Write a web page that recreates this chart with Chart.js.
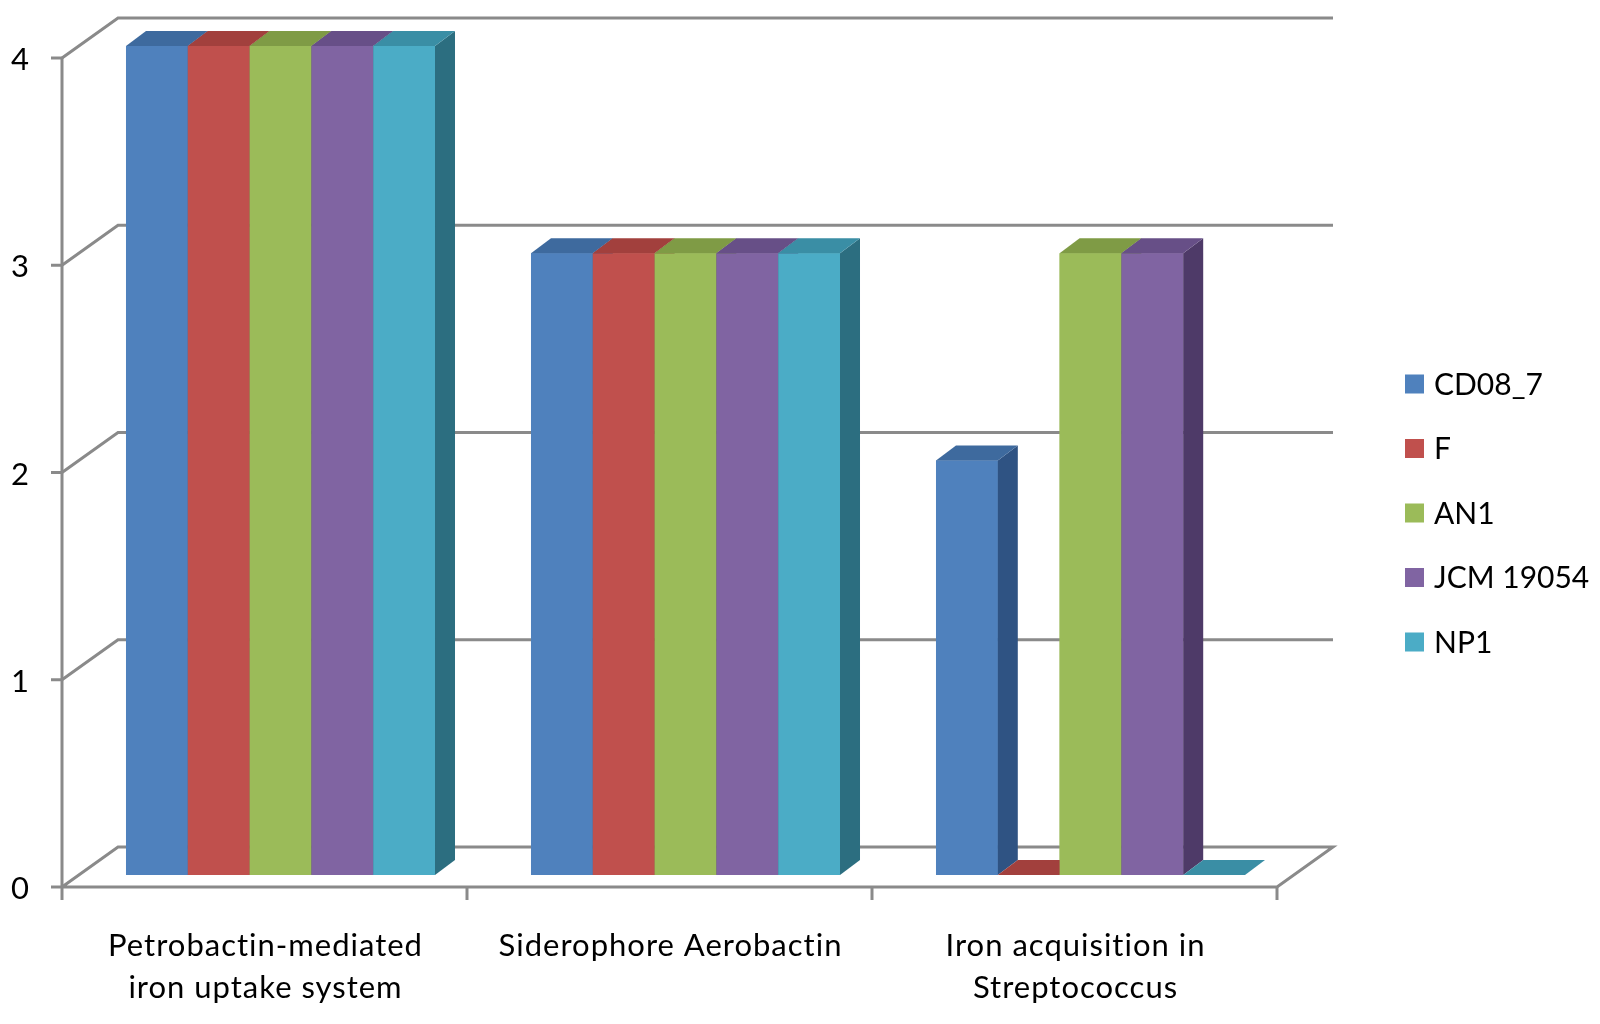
<!DOCTYPE html>
<html>
<head>
<meta charset="utf-8">
<script src="https://cdn.jsdelivr.net/npm/chart.js@4.4.1/dist/chart.umd.min.js"></script>
<style>
html, body { margin: 0; padding: 0; background: #fff; }
#wrap { width: 1600px; height: 1024px; position: relative; }
</style>
</head>
<body>
<div id="wrap"><canvas id="chart"></canvas></div>
<script>
// data
const categories = [
    ['Petrobactin-mediated', 'iron uptake system'],
    ['Siderophore Aerobactin'],
    ['Iron acquisition in', 'Streptococcus']
];
const seriesNames = ['CD08_7', 'F', 'AN1', 'JCM 19054', 'NP1'];
const cd08_7 = [4, 3, 2];
const strainF = [4, 3, 0];
const an1 = [4, 3, 3];
const jcm19054 = [4, 3, 3];
const np1 = [4, 3, 0];
const yTicks = [0, 1, 2, 3, 4];

// styles
const fronts = ['#4F81BD', '#C0504D', '#9BBB59', '#8064A2', '#4BACC6'];
const tops   = ['#3E6A9E', '#A2403D', '#7F9B45', '#674F87', '#3A8EA5'];
const sides  = ['#2F5383', '#7E2F2D', '#5E7634', '#4E3A68', '#2C6E80'];
const FONT = 'Lato, "Open Sans", sans-serif';

// 3d offsets relative to the plane of the bar fronts
const depth = {dx: 20, dy: -15};
const front = {dx: -16, dy: 12};
const back = {dx: 40, dy: -28};

const poly = (ctx, pts, fill) => {
    ctx.beginPath();
    ctx.moveTo(pts[0][0], pts[0][1]);
    pts.slice(1).forEach(p => ctx.lineTo(p[0], p[1]));
    ctx.closePath();
    ctx.fillStyle = fill;
    ctx.fill();
};

const frame = {
    id: 'frame',
    beforeDatasetsDraw(chart) {
        const {ctx, chartArea: a, scales: {x, y}} = chart;
        ctx.save();
        ctx.strokeStyle = '#8a8a8a';
        ctx.lineWidth = 3;
        const xl = a.left, xr = a.right;

        // walls, gridlines and floor
        yTicks.forEach(v => {
            const py = y.getPixelForValue(v);
            ctx.beginPath();
            ctx.moveTo(xl + front.dx, py + front.dy);
            ctx.lineTo(xl + back.dx, py + back.dy);
            ctx.lineTo(xr + back.dx, py + back.dy);
            if (v === 0) {
                ctx.lineTo(xr + front.dx, py + front.dy);
                ctx.lineTo(xl + front.dx, py + front.dy);
            }
            ctx.stroke();
            // tick mark
            ctx.beginPath();
            ctx.moveTo(xl + front.dx - 11, py + front.dy);
            ctx.lineTo(xl + front.dx, py + front.dy);
            ctx.stroke();
        });

        // value axis
        ctx.beginPath();
        ctx.moveTo(xl + front.dx, y.getPixelForValue(4) + front.dy);
        ctx.lineTo(xl + front.dx, y.getPixelForValue(0) + front.dy);
        ctx.stroke();

        // category ticks
        const cw = (xr - xl) / categories.length;
        const fy = y.getPixelForValue(0) + front.dy;
        for (let i = 0; i <= categories.length; i++) {
            const px = xl + i * cw + front.dx;
            ctx.beginPath();
            ctx.moveTo(px, fy);
            ctx.lineTo(px, fy + 13);
            ctx.stroke();
        }
        ctx.restore();
    },
    afterDatasetsDraw(chart) {
        const {ctx, chartArea: a, scales: {x, y}} = chart;
        ctx.save();

        // redraw bars left to right so neighbours hide the side faces
        const bars = [];
        chart.getSortedVisibleDatasetMetas().forEach(meta => {
            meta.data.forEach(el => bars.push({el, ds: meta.index}));
        });
        bars.sort((p, q) => p.el.x - q.el.x);
        bars.forEach(({el, ds}) => {
            const {x: cx, y: top, base, width} = el.getProps(['x', 'y', 'base', 'width'], true);
            const l = cx - width / 2, r = cx + width / 2;
            if (base - top > 0.5) {
                el.draw(ctx);
                poly(ctx, [[r, top], [r + depth.dx, top + depth.dy],
                           [r + depth.dx, base + depth.dy], [r, base]], sides[ds]);
            }
            poly(ctx, [[l, top], [r, top], [r + depth.dx, top + depth.dy],
                       [l + depth.dx, top + depth.dy]], tops[ds]);
        });

        // value labels
        ctx.fillStyle = '#000';
        ctx.font = '31px ' + FONT;
        ctx.textAlign = 'right';
        ctx.textBaseline = 'middle';
        yTicks.forEach(v => {
            ctx.fillText(String(v), a.left + front.dx - 33, y.getPixelForValue(v) + front.dy + 2);
        });

        // category labels
        ctx.font = '31px ' + FONT;
        ctx.letterSpacing = '1px';
        ctx.textAlign = 'center';
        ctx.textBaseline = 'alphabetic';
        const y0 = y.getPixelForValue(0);
        categories.forEach((lines, i) => {
            const px = x.getPixelForValue(i) + front.dx;
            lines.forEach((t, k) => ctx.fillText(t, px + 1, y0 + 81 + k * 42));
        });
        ctx.letterSpacing = '0px';

        // legend
        ctx.font = '30px ' + FONT;
        ctx.textAlign = 'left';
        ctx.textBaseline = 'middle';
        seriesNames.forEach((n, i) => {
            const cy = 384 + i * 64.5;
            ctx.fillStyle = fronts[i];
            ctx.fillRect(1405, cy - 9.5, 19, 19);
            ctx.fillStyle = '#000';
            ctx.fillText(n, 1434, cy + 1);
        });
        ctx.restore();
    }
};

const seriesValues = [cd08_7, strainF, an1, jcm19054, np1];

new Chart(document.getElementById('chart'), {
    type: 'bar',
    data: {
        labels: categories.map(c => c.join(' ')),
        datasets: seriesNames.map((n, i) => ({
            label: n,
            data: seriesValues[i],
            backgroundColor: fronts[i],
            borderWidth: 0,
            categoryPercentage: 0.763,
            barPercentage: 1.0
        }))
    },
    options: {
        responsive: true,
        maintainAspectRatio: false,
        animation: false,
        layout: {padding: {left: 78, right: 307, top: 46, bottom: 149}},
        scales: {
            x: {display: false, offset: true},
            y: {display: false, min: 0, max: 4}
        },
        plugins: {
            legend: {display: false},
            tooltip: {enabled: false}
        }
    },
    plugins: [frame]
});
</script>
</body>
</html>
